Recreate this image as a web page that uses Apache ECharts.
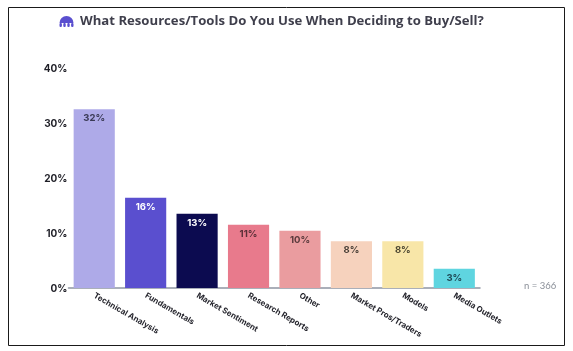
<!DOCTYPE html>
<html>
<head>
<meta charset="utf-8">
<style>
    html, body { margin: 0; padding: 0; background: #fff; }
    #main { width: 573px; height: 351px; }
</style>
<script src="https://cdn.jsdelivr.net/npm/echarts@6/dist/echarts.min.js"></script>
</head>
<body>
<div id="main"></div>
<script>
var categories = ["Technical Analysis", "Fundamentals", "Market Sentiment", "Research Reports", "Other", "Market Pros/Traders", "Models", "Media Outlets"];
var barValues = [32.5, 16.4, 13.5, 11.5, 10.4, 8.5, 8.5, 3.5];
var barLabels = ["32%", "16%", "13%", "11%", "10%", "8%", "8%", "3%"];
var barColors = ["#aeaae8", "#5a4fcf", "#0c0b50", "#e87a8c", "#ea9c9f", "#f6d2bd", "#f8e6a8", "#5fd5e0"];
var labelColors = ["#3a3a55", "#ffffff", "#ffffff", "#5a3038", "#5a3a3c", "#4a4038", "#4a4530", "#1f4a55"];

var myChart = echarts.init(document.getElementById("main"));

var logoColor = "#5a4fcf";

var option = {
    animation: false,
    backgroundColor: "#fff",
    title: {
        text: "What Resources/Tools Do You Use When Deciding to Buy/Sell?",
        left: 80,
        top: 14.5,
        padding: 0,
        textStyle: {
            fontFamily: "Open Sans",
            fontSize: 13.15,
            fontWeight: "bold",
            color: "#3f3f4c"
        }
    },
    grid: { left: 68.5, right: 93, top: 68, bottom: 63 },
    xAxis: {
        type: "category",
        data: categories,
        axisTick: { show: false },
        axisLine: { lineStyle: { color: "#8f95a3", width: 1.5 } },
        axisLabel: {
            interval: 0,
            rotate: -30,
            margin: 7,
            fontFamily: "Inter",
            fontSize: 8,
            fontWeight: "bold",
            color: "#26262e"
        }
    },
    yAxis: {
        type: "value",
        min: 0,
        max: 40,
        interval: 10,
        axisLine: { show: false },
        axisTick: { show: false },
        splitLine: { show: false },
        axisLabel: {
            formatter: "{v|{value}%}",
            margin: 1,
            rich: {
                v: {
                    padding: [2, 0, 0, 0],
                    fontFamily: "Inter",
                    fontSize: 10,
                    fontWeight: "bold",
                    color: "#1e1e26"
                }
            }
        }
    },
    series: [{
        type: "bar",
        barWidth: "80%",
        data: barValues.map(function (v, i) {
            return {
                value: v,
                itemStyle: { color: barColors[i] },
                label: { color: labelColors[i] }
            };
        }),
        label: {
            show: true,
            position: "insideTop",
            distance: 4,
            fontFamily: "Inter",
            fontSize: 9.5,
            fontWeight: "bold",
            formatter: function (p) {
                return barLabels[p.dataIndex];
            }
        }
    }],
    graphic: [
        {
            type: "rect",
            shape: { x: 8.5, y: 7.5, width: 556, height: 338 },
            style: { fill: "none", stroke: "#1a1a1a", lineWidth: 1 }
        },
        // logo mark next to the title
        {
            type: "sector",
            shape: { cx: 66.5, cy: 23, r: 7, r0: 0, startAngle: Math.PI, endAngle: Math.PI * 2 },
            style: { fill: logoColor }
        },
        { type: "rect", shape: { x: 59.5, y: 23, width: 2.4, height: 4, r: 1 }, style: { fill: logoColor } },
        { type: "rect", shape: { x: 63.3, y: 23, width: 2.4, height: 4, r: 1 }, style: { fill: logoColor } },
        { type: "rect", shape: { x: 67.3, y: 23, width: 2.4, height: 4, r: 1 }, style: { fill: logoColor } },
        { type: "rect", shape: { x: 71.1, y: 23, width: 2.4, height: 4, r: 1 }, style: { fill: logoColor } },
        {
            type: "text",
            x: 524,
            y: 281,
            style: {
                text: "n = 366",
                fontFamily: "Lato",
                fontSize: 9.5,
                fill: "#8a8f98"
            }
        }
    ]
};
myChart.setOption(option);
</script>
</body>
</html>
